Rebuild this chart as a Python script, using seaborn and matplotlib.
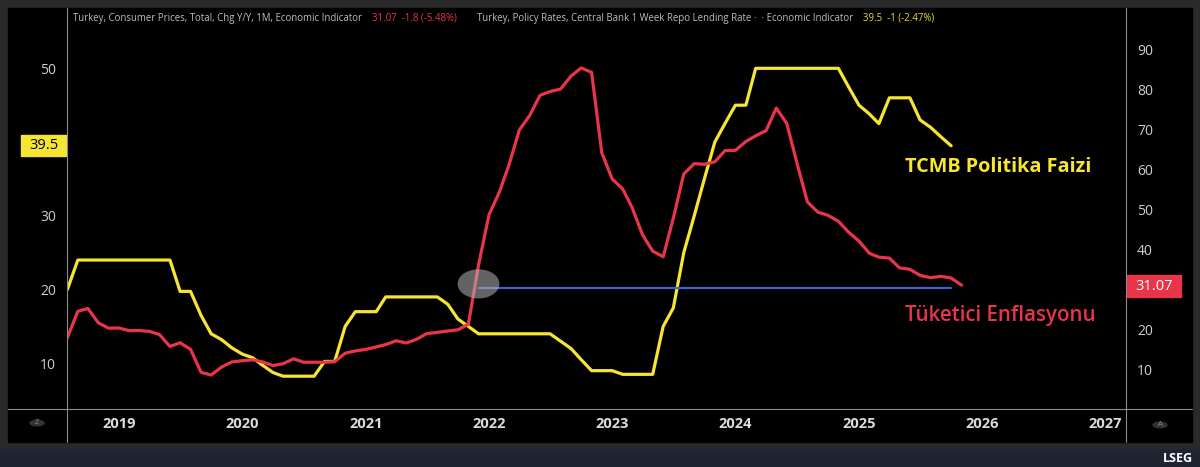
import pandas as pd
import numpy as np
import matplotlib
matplotlib.use("Agg")
import matplotlib.pyplot as plt
import matplotlib.dates as mdates
import matplotlib.transforms as mtransforms
from matplotlib.patches import Rectangle, Ellipse, Circle
from matplotlib.lines import Line2D
import seaborn as sns

# monthly data, Aug 2018 onwards
policy_start = "2018-08-01"
policy_rate = [
    20, 24, 24, 24, 24,                                                    # 2018
    24, 24, 24, 24, 24, 24, 19.75, 19.75, 16.5, 14, 13.2, 12.1,            # 2019
    11.25, 10.75, 9.75, 8.75, 8.25, 8.25, 8.25, 8.25, 10.25, 10.25, 15, 17,  # 2020
    17, 17, 19, 19, 19, 19, 19, 19, 18, 16, 15, 14,                        # 2021
    14, 14, 14, 14, 14, 14, 14, 13, 12, 10.5, 9, 9,                        # 2022
    9, 8.5, 8.5, 8.5, 8.5, 15, 17.5, 25, 30, 35, 40, 42.5,                 # 2023
    45, 45, 50, 50, 50, 50, 50, 50, 50, 50, 50, 47.5,                      # 2024
    45, 43.8, 42.5, 46, 46, 46, 43, 42, 40.7, 39.5,                        # 2025
]

cpi_start = "2018-08-01"
cpi_yoy = [
    17.90, 24.52, 25.24, 21.62, 20.30,
    20.35, 19.67, 19.71, 19.50, 18.71, 15.72, 16.65, 15.01, 9.26, 8.55, 10.56, 11.84,
    12.15, 12.37, 11.86, 10.94, 11.39, 12.62, 11.76, 11.77, 11.75, 11.89, 14.03, 14.60,
    14.97, 15.61, 16.19, 17.14, 16.59, 17.53, 18.95, 19.25, 19.58, 19.89, 21.31, 36.08,
    48.69, 54.44, 61.14, 69.97, 73.50, 78.62, 79.60, 80.21, 83.45, 85.51, 84.39, 64.27,
    57.68, 55.18, 50.51, 43.68, 39.59, 38.21, 47.83, 58.94, 61.53, 61.36, 61.98, 64.77,
    64.86, 67.07, 68.50, 69.80, 75.45, 71.60, 61.78, 51.97, 49.38, 48.58, 47.09, 44.38,
    42.12, 39.05, 38.10, 37.86, 35.41, 35.05, 33.52, 32.95, 33.29, 32.87, 31.07,
]

year_ticks = [str(y) for y in range(2019, 2028)]
left_ticks = [10, 20, 30, 50]
right_ticks = [10, 20, 40, 50, 60, 70, 80, 90]

# annotation: horizontal reference from Dec 2021 to Oct 2025
ref_start, ref_end, ref_level = "2021-12-01", "2025-10-01", 30.4

policy = pd.DataFrame({"date": pd.date_range(policy_start, periods=len(policy_rate), freq="MS"),
                       "rate": policy_rate})
cpi = pd.DataFrame({"date": pd.date_range(cpi_start, periods=len(cpi_yoy), freq="MS"),
                    "cpi": cpi_yoy})

YELLOW = "#f6e532"
RED = "#e8354a"
GREY_TXT = "#cfcfcf"

sns.set_style("dark")
plt.rcParams["font.family"] = ["Open Sans", "DejaVu Sans"]

W, H = 1200, 467
fig = plt.figure(figsize=(12, 4.67), dpi=100, facecolor="#2a2a2a")


def fx(px):
    return px / W


def fy(py):
    return 1 - py / H


# black panel + footer band
fig.patches.append(Rectangle((fx(8), fy(442)), fx(1192) - fx(8), fy(8) - fy(442),
                             transform=fig.transFigure, color="black", zorder=-5))
fig.patches.append(Rectangle((0, 0), 1, fy(449), transform=fig.transFigure,
                             color="#1f2431", zorder=-5))

ax = fig.add_axes([fx(67), fy(409), fx(1126) - fx(67), fy(8) - fy(409)])
ax.set_facecolor("black")
ax2 = ax.twinx()

sns.lineplot(data=policy, x="date", y="rate", ax=ax, color=YELLOW, lw=2.3)
sns.lineplot(data=cpi, x="date", y="cpi", ax=ax2, color=RED, lw=2.3)

ax.set_xlim(pd.Timestamp("2018-07-31"), pd.Timestamp("2027-03-03"))
ax.set_ylim(3.8, 58.18)
ax2.set_ylim(0.05, 100.52)

ax.set_xticks([pd.Timestamp(f"{y}-01-01") for y in year_ticks])
ax.set_xticklabels(year_ticks, fontsize=10.5, fontweight="bold", color="#dcdcdc")
ax.set_yticks(left_ticks)
ax.set_yticklabels([str(t) for t in left_ticks], fontsize=10, color=GREY_TXT)
ax2.set_yticks(right_ticks)
ax2.set_yticklabels([str(t) for t in right_ticks], fontsize=10, color=GREY_TXT)
ax.tick_params(axis="x", length=0, pad=6)
ax.tick_params(axis="y", length=0, pad=8)
ax2.tick_params(axis="y", length=0, pad=8)
for a in (ax, ax2):
    a.set_xlabel("")
    a.set_ylabel("")
    a.grid(False)
    for s in a.spines.values():
        s.set_visible(False)

# reference line and highlight
ax2.plot([pd.Timestamp(ref_start), pd.Timestamp(ref_end)], [ref_level, ref_level],
         color="#3b62d8", lw=1.6, zorder=3)
ax2.add_patch(Ellipse((mdates.date2num(pd.Timestamp(ref_start)), 31.4), 124, 7.3,
                      facecolor="#b5b5b5", alpha=0.55, edgecolor="none", zorder=4))

# last value boxes on the axes
tl = mtransforms.blended_transform_factory(fig.transFigure, ax.transData)
ax.add_patch(Rectangle((fx(21), policy_rate[-1] - 1.42), fx(66) - fx(21), 2.85,
                       transform=tl, color=YELLOW, clip_on=False, zorder=5))
ax.text(fx(43.5), policy_rate[-1], f"{policy_rate[-1]}", transform=tl, ha="center",
        va="center", fontsize=10.5, color="black", clip_on=False, zorder=6)
tr = mtransforms.blended_transform_factory(fig.transFigure, ax2.transData)
ax2.add_patch(Rectangle((fx(1127), cpi_yoy[-1] - 2.95), fx(1181) - fx(1127), 5.5,
                        transform=tr, color=RED, clip_on=False, zorder=5))
ax2.text(fx(1154), cpi_yoy[-1] - 0.3, f"{cpi_yoy[-1]:.2f}", transform=tr, ha="center",
         va="center", fontsize=10.5, color="white", clip_on=False, zorder=6)

# separators
line_kw = dict(transform=fig.transFigure, color="#8c8c8c", lw=0.8)
fig.add_artist(Line2D([fx(67), fx(67)], [fy(8), fy(442)], **line_kw))
fig.add_artist(Line2D([fx(1126), fx(1126)], [fy(8), fy(442)], **line_kw))
fig.add_artist(Line2D([fx(8), fx(1192)], [fy(409), fy(409)], **line_kw))

# header legend
hy = fy(18)
fig.text(fx(73), hy, "Turkey, Consumer Prices, Total, Chg Y/Y, 1M, Economic Indicator",
         fontsize=6.9, color="#bdbdbd", va="center")
fig.text(fx(372), hy, "31.07  -1.8 (-5.48%)", fontsize=6.9, color=RED, va="center")
fig.text(fx(477), hy, "Turkey, Policy Rates, Central Bank 1 Week Repo Lending Rate \u00b7  \u00b7 Economic Indicator",
         fontsize=6.9, color="#bdbdbd", va="center")
fig.text(fx(863), hy, "39.5  -1 (-2.47%)", fontsize=6.9, color="#e6dc3a", va="center")

# series labels
fig.text(fx(905), fy(167), "TCMB Politika Faizi", fontsize=14.3, fontweight="bold",
         color=YELLOW, va="center")
fig.text(fx(905), fy(315), "Tüketici Enflasyonu", fontsize=14.8, fontweight="semibold",
         color=RED, va="center")

# corner buttons and footer
for cx, cy, letter in [(37, 423, "Z"), (1160, 425, "A")]:
    fig.patches.append(Circle((fx(cx), fy(cy)), 7 / W, transform=fig.transFigure,
                              color="#333333", zorder=2))
    fig.text(fx(cx), fy(cy), letter, fontsize=5.5, color="#888888", ha="center", va="center")
fig.text(fx(1193), fy(458), "LSEG", fontsize=9, fontweight="bold", color="white",
         ha="right", va="center")

fig.savefig("out.png", dpi=100, facecolor=fig.get_facecolor())
